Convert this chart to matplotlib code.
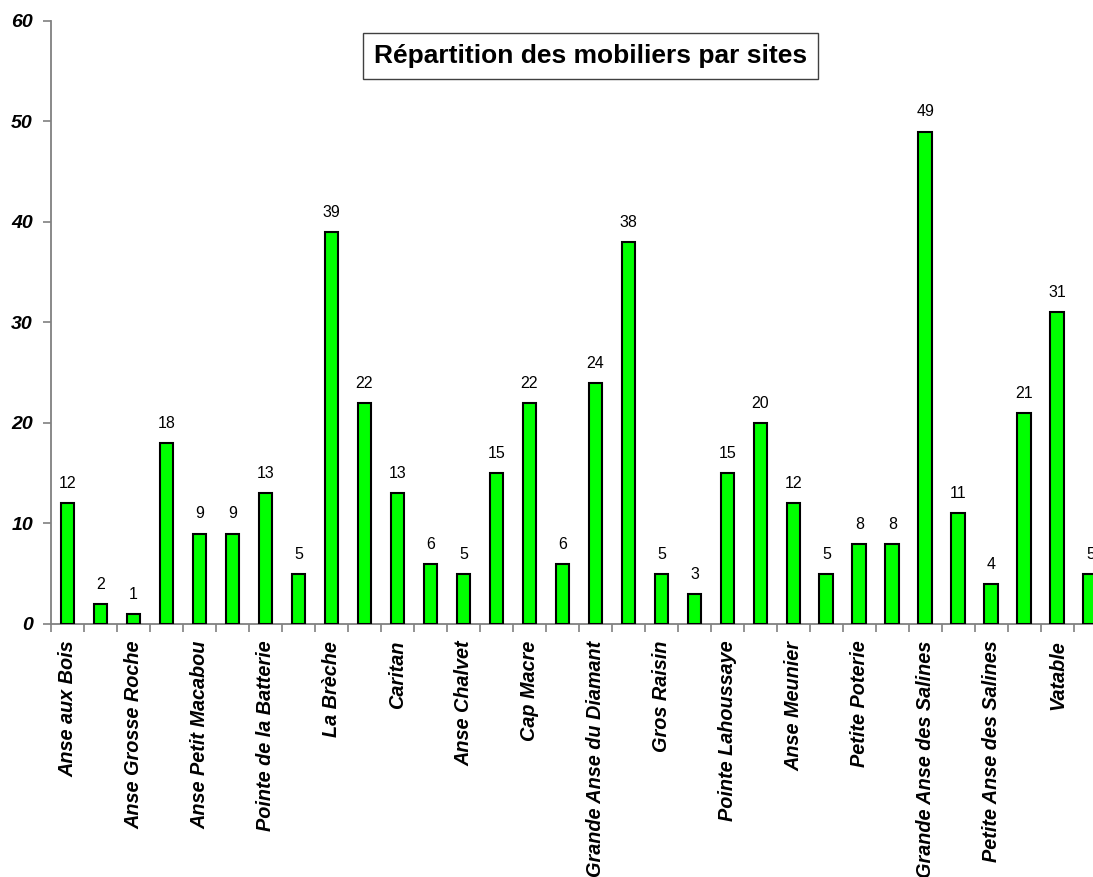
import matplotlib
matplotlib.use("Agg")
import matplotlib.pyplot as plt
import numpy as np

plt.rcParams['font.family'] = ['Liberation Sans', 'DejaVu Sans']

# nombre de mobiliers par site (un nom affiché sur deux)
values = [12, 2, 1, 18, 9, 9, 13, 5, 39, 22, 13, 6, 5, 15, 22, 6,
          24, 38, 5, 3, 15, 20, 12, 5, 8, 8, 49, 11, 4, 21, 31, 5]
shown_sites = [
    "Anse aux Bois", "Anse Grosse Roche", "Anse Petit Macabou",
    "Pointe de la Batterie", "La Brèche", "Caritan", "Anse Chalvet",
    "Cap Macre", "Grande Anse du Diamant", "Gros Raisin",
    "Pointe Lahoussaye", "Anse Meunier", "Petite Poterie",
    "Grande Anse des Salines", "Petite Anse des Salines", "Vatable",
]
title = "Répartition des mobiliers par sites"

x = np.arange(len(values))

fig = plt.figure(figsize=(10.93, 8.77), dpi=100)
ax = fig.add_axes([0.0467, 0.2885, 0.966, 0.6876])

bars = ax.bar(x, values, width=0.42, color="#00ff00",
              edgecolor="black", linewidth=1.5, zorder=3)
for xi, v in zip(x, values):
    ax.text(xi, v + 1.2, str(v), ha="center", va="bottom", fontsize=11.5)

ax.set_xlim(-0.5, len(values) - 0.5)
ax.set_ylim(0, 60)
ax.set_yticks(range(0, 61, 10))
ax.set_yticklabels([str(t) for t in range(0, 61, 10)],
                   fontsize=14, fontweight="bold", fontstyle="italic")

ax.set_xticks(x[::2])
ax.set_xticklabels(shown_sites, rotation=90, fontsize=14.3,
                   fontweight="bold", fontstyle="italic")
ax.set_xticks(np.arange(len(values) + 1) - 0.5, minor=True)
ax.tick_params(axis="x", which="major", length=0, pad=12)
ax.tick_params(axis="x", which="minor", length=6, color="#808080", width=1.2)
ax.tick_params(axis="y", length=6, color="#808080", width=1.2, pad=7)

for side in ("top", "right"):
    ax.spines[side].set_visible(False)
for side in ("left", "bottom"):
    ax.spines[side].set_color("#808080")
    ax.spines[side].set_linewidth(1.3)

fig.text(0.54, 0.936, title, ha="center", va="center", fontsize=19,
         fontweight="bold",
         bbox=dict(boxstyle="square,pad=0.42", facecolor="white",
                   edgecolor="#404040", linewidth=1))

fig.savefig("out.png", dpi=100)
